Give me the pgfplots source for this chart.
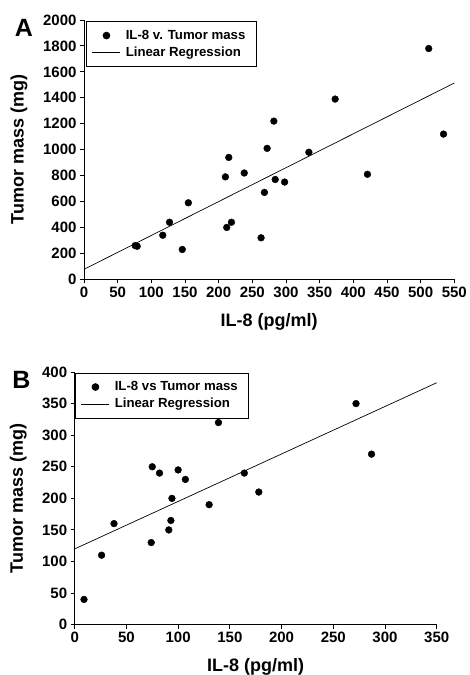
\documentclass[border=0pt]{standalone}
\usepackage{fontspec}
\setmainfont{Liberation Sans}
\usepackage{pgfplots}
\pgfplotsset{compat=1.18}
\pgfplotsset{
  myaxis/.style={
    scale only axis,
    axis x line=bottom, axis y line=left,
    axis line style={-, line width=0.9pt},
    tick align=outside, tick style={line width=0.9pt, black},
    major tick length=4pt,
    /pgf/number format/assume math mode=true,
    /pgf/number format/1000 sep={},
    tick label style={font=\bfseries\fontsize{15}{18}\selectfont},
    label style={font=\bfseries\fontsize{18}{21}\selectfont},
    legend cell align=left,
    legend style={draw=black, line width=0.8pt, fill=white,
      font=\bfseries\fontsize{13.2}{15}\selectfont,
      inner xsep=6pt, inner ysep=6.5pt, row sep=2pt,
      nodes={inner xsep=5pt}},
    legend image code/.code={\draw[mark repeat=2,mark phase=2,#1] plot coordinates {(0pt,0pt)(14pt,0pt)(28pt,0pt)};},
    clip=false,
  },
}
\begin{document}
\begin{tikzpicture}
\useasboundingbox (0,0) rectangle (469pt,-675pt);
\node[font=\bfseries\fontsize{25}{28}\selectfont] at (24pt,-27.5pt) {A};
\node[font=\bfseries\fontsize{25}{28}\selectfont] at (21.5pt,-380pt) {B};
\begin{axis}[myaxis,
  at={(84pt,-279.3pt)}, anchor=south west,
  width=370.3pt, height=259.3pt,
  xmin=0, xmax=550, ymin=0, ymax=2000,
  xtick={0,50,...,550}, ytick={0,200,...,2000},
  xlabel={IL-8 (pg/ml)}, ylabel={Tumor mass (mg)},
  x label style={at={(axis description cs:0.5,-0.1635)}, anchor=center},
  y label style={at={(axis description cs:-0.1755,0.5)}, anchor=center, rotate=0},
  legend style={at={(axis description cs:0.0046,0.995)}, anchor=north west},
]
\addplot[only marks, mark=*, mark size=3.4pt, black] coordinates {
(76,260) (79,255) (117,340) (127,440) (146,230) (155,590) (210,790) (212,400)
(215,940) (219,440) (238,820) (263,320) (268,670) (272,1010) (282,1220)
(284,770) (298,750) (334,980) (373,1390) (421,810) (512,1780) (534,1120)
};
\addlegendentry{IL-8 v. Tumor mass}
\addplot[black, line width=0.7pt, mark=none] coordinates {(0,77) (550,1514)};
\addlegendentry{Linear Regression}
\end{axis}
\begin{axis}[myaxis,
  at={(74.7pt,-624.7pt)}, anchor=south west,
  width=362pt, height=252.7pt,
  xmin=0, xmax=350, ymin=0, ymax=400,
  xtick={0,50,...,350}, ytick={0,50,...,400},
  xlabel={IL-8 (pg/ml)}, ylabel={Tumor mass (mg)},
  x label style={at={(axis description cs:0.5,-0.166)}, anchor=center},
  y label style={at={(axis description cs:-0.156,0.5)}, anchor=center, rotate=0},
  legend style={at={(axis description cs:0,0.997)}, anchor=north west},
]
\addplot[only marks, mark=*, mark size=3.4pt, black] coordinates {
(9,40) (26,110) (38,160) (74,130) (75,250) (82,240) (91,150) (93,165)
(94,200) (100,245) (107,230) (130,190) (139,320) (164,240) (178,210)
(272,350) (287,270)
};
\addlegendentry{IL-8 vs Tumor mass}
\addplot[black, line width=0.7pt, mark=none] coordinates {(0,120) (350,383)};
\addlegendentry{Linear Regression}
\end{axis}
\end{tikzpicture}
\end{document}
